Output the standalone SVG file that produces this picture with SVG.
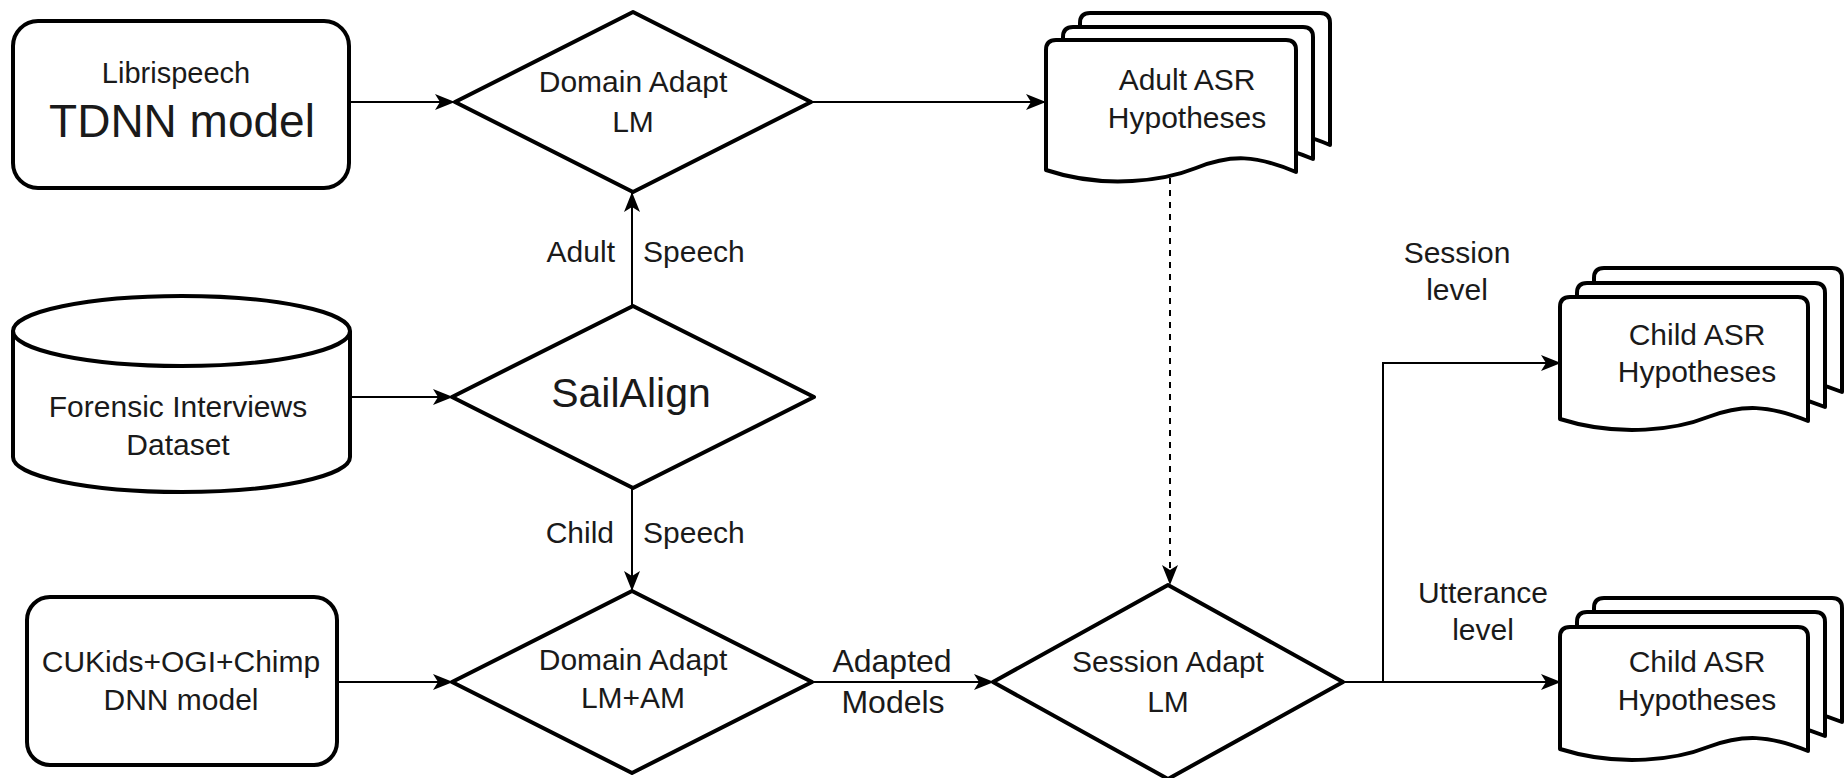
<svg xmlns="http://www.w3.org/2000/svg" width="1845" height="778" viewBox="0 0 1845 778">
<style>
.shape{fill:#fff;stroke:#000;stroke-width:4;stroke-linejoin:round}
.conn{fill:none;stroke:#000;stroke-width:2}
.dash{fill:none;stroke:#000;stroke-width:2;stroke-dasharray:6 6}
text{font-family:"Liberation Sans",Arial,Helvetica,sans-serif;fill:#1a1a1a;text-anchor:middle;font-size:30px}
.big{font-size:46px}
.sa{font-size:41px}
.lbl{font-size:32px}
.l{text-anchor:end}
.r{text-anchor:start}
</style>
<defs>
<marker id="arr" viewBox="0 0 20 16" refX="19" refY="8" markerWidth="20" markerHeight="16" markerUnits="userSpaceOnUse" orient="auto">
<path d="M0,0 L20,8 L0,16 L5,8 Z" fill="#000"/>
</marker>
<path id="docA" d="M10,0 H240 Q250,0 250,10 V132 C210,115 185,114 150,128 C120,140 60,150 0,130 V10 Q0,0 10,0 Z"/>
<path id="docC" d="M10,0 H238 Q248,0 248,10 V124 C208,108 183,107 148,120 C118,132 60,141 0,122 V10 Q0,0 10,0 Z"/>
</defs>
<rect width="1845" height="778" fill="#fff"/>

<g id="connectors">
<line class="conn" x1="349" y1="102" x2="454" y2="102" marker-end="url(#arr)"/>
<line class="conn" x1="811" y1="102" x2="1045" y2="102" marker-end="url(#arr)"/>
<line class="conn" x1="350" y1="397" x2="452" y2="397" marker-end="url(#arr)"/>
<line class="conn" x1="337" y1="682" x2="452" y2="682" marker-end="url(#arr)"/>
<line class="conn" x1="812" y1="682" x2="993" y2="682" marker-end="url(#arr)"/>
<line class="conn" x1="632" y1="306" x2="632" y2="193" marker-end="url(#arr)"/>
<line class="conn" x1="632" y1="488" x2="632" y2="590" marker-end="url(#arr)"/>
<line class="dash" x1="1170" y1="178" x2="1170" y2="584" marker-end="url(#arr)"/>
<polyline class="conn" points="1343,682 1383,682 1383,363 1560,363" marker-end="url(#arr)"/>
<line class="conn" x1="1343" y1="682" x2="1560" y2="682" marker-end="url(#arr)"/>
<text class="l" x="615" y="262">Adult</text>
<text class="r" x="643" y="262">Speech</text>
<text class="l" x="614" y="543">Child</text>
<text class="r" x="643" y="543">Speech</text>
<text class="lbl" x="892" y="672">Adapted</text>
<text class="lbl" x="893" y="713">Models</text>
<text x="1457" y="263">Session</text>
<text x="1457" y="300">level</text>
<text x="1483" y="603">Utterance</text>
<text x="1483" y="640">level</text>
</g>

<g id="librispeech">
<rect class="shape" x="13" y="21" width="336" height="167" rx="25"/>
<text x="176" y="83" style="font-size:29px">Librispeech</text>
<text class="big" x="182" y="137">TDNN model</text>
</g>

<g id="forensic">
<path class="shape" d="M13,331 A168.5,35 0 0 1 350,331 V457 A168.5,35 0 0 1 13,457 Z"/>
<path class="shape" d="M13,331 A168.5,35 0 0 0 350,331" fill="none"/>
<text x="178" y="417">Forensic Interviews</text>
<text x="178" y="455">Dataset</text>
</g>

<g id="cukids">
<rect class="shape" x="27" y="597" width="310" height="168" rx="23"/>
<text x="181" y="672">CUKids+OGI+Chimp</text>
<text x="181" y="710">DNN model</text>
</g>

<g id="domain-lm">
<polygon class="shape" points="633,12 811,102 633,192 455,102"/>
<text x="633" y="92">Domain Adapt</text>
<text x="633" y="132">LM</text>
</g>

<g id="sailalign">
<polygon class="shape" points="633,306 814,397 633,488 452,397"/>
<text class="sa" x="631" y="407">SailAlign</text>
</g>

<g id="domain-lmam">
<polygon class="shape" points="632,591 812,682 632,773 452,682"/>
<text x="633" y="670">Domain Adapt</text>
<text x="633" y="708">LM+AM</text>
</g>

<g id="session-adapt">
<polygon class="shape" points="1168,585 1343,682 1168,779 993,682"/>
<text x="1168" y="672">Session Adapt</text>
<text x="1168" y="712">LM</text>
</g>

<g id="adult-asr">
<use href="#docA" class="shape" x="1080" y="13"/>
<use href="#docA" class="shape" x="1063" y="27"/>
<use href="#docA" class="shape" x="1046" y="40"/>
<text x="1187" y="90">Adult ASR</text>
<text x="1187" y="128">Hypotheses</text>
</g>

<g id="child-asr-session">
<use href="#docC" class="shape" x="1594" y="268"/>
<use href="#docC" class="shape" x="1577" y="283"/>
<use href="#docC" class="shape" x="1560" y="297"/>
<text x="1697" y="345">Child ASR</text>
<text x="1697" y="382">Hypotheses</text>
</g>

<g id="child-asr-utterance">
<use href="#docC" class="shape" x="1594" y="598"/>
<use href="#docC" class="shape" x="1577" y="612"/>
<use href="#docC" class="shape" x="1560" y="627"/>
<text x="1697" y="672">Child ASR</text>
<text x="1697" y="710">Hypotheses</text>
</g>
</svg>
